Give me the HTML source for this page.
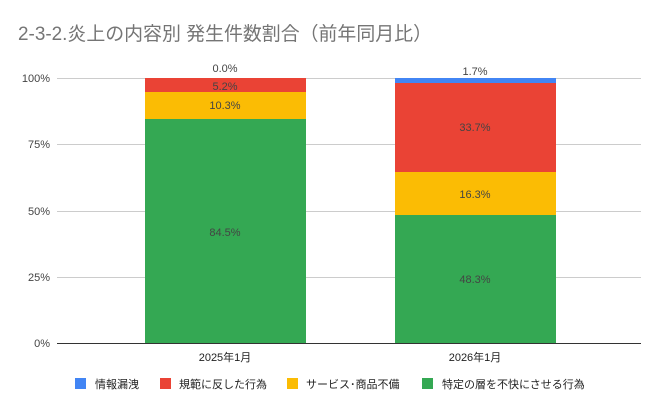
<!DOCTYPE html>
<html><head><meta charset="utf-8"><style>
body{margin:0;background:#fff}
svg text{font-family:"Liberation Sans","Noto Sans CJK JP",sans-serif}
</style></head><body>
<svg width="663" height="408" xmlns="http://www.w3.org/2000/svg">
<rect width="663" height="408" fill="#fff"/>
<text x="18" y="40" font-size="19" fill="#757575" textLength="414" lengthAdjust="spacingAndGlyphs">2-3-2.炎上の内容別 発生件数割合（前年同月比）</text>
<g stroke="#ccc" stroke-width="1">
<line x1="57" y1="78.5" x2="641" y2="78.5"/>
<line x1="57" y1="144.5" x2="641" y2="144.5"/>
<line x1="57" y1="211.5" x2="641" y2="211.5"/>
<line x1="57" y1="277.5" x2="641" y2="277.5"/>
</g>
<g font-size="11" fill="#444" text-anchor="end">
<text x="50" y="82">100%</text>
<text x="50" y="148">75%</text>
<text x="50" y="215">50%</text>
<text x="50" y="281">25%</text>
<text x="50" y="347">0%</text>
</g>
<rect x="145" y="119" width="161" height="225" fill="#34a853"/>
<rect x="145" y="92" width="161" height="27" fill="#fbbc04"/>
<rect x="145" y="78" width="161" height="14" fill="#ea4335"/>
<rect x="395" y="215" width="161" height="129" fill="#34a853"/>
<rect x="395" y="172" width="161" height="43" fill="#fbbc04"/>
<rect x="395" y="83" width="161" height="89" fill="#ea4335"/>
<rect x="395" y="78" width="161" height="5" fill="#4285f4"/>
<line x1="57" y1="343.5" x2="641" y2="343.5" stroke="#333" stroke-width="1"/>
<g font-size="11" fill="#444" text-anchor="middle">
<text x="225" y="72">0.0%</text>
<text x="225" y="90">5.2%</text>
<text x="225" y="109">10.3%</text>
<text x="225" y="236">84.5%</text>
<text x="475" y="75">1.7%</text>
<text x="475" y="131">33.7%</text>
<text x="475" y="198">16.3%</text>
<text x="475" y="283">48.3%</text>
</g>
<g font-size="11" fill="#222" text-anchor="middle">
<text x="225" y="361">2025年1月</text>
<text x="475" y="361">2026年1月</text>
</g>
<rect x="75" y="378" width="11" height="11" fill="#4285f4"/>
<rect x="160" y="378" width="11" height="11" fill="#ea4335"/>
<rect x="287" y="378" width="11" height="11" fill="#fbbc04"/>
<rect x="422" y="378" width="11" height="11" fill="#34a853"/>
<g font-size="11" fill="#222">
<text x="95" y="388">情報漏洩</text>
<text x="179" y="388">規範に反した行為</text>
<text x="306" y="388">サービス･商品不備</text>
<text x="442" y="388">特定の層を不快にさせる行為</text>
</g>
</svg>
</body></html>
